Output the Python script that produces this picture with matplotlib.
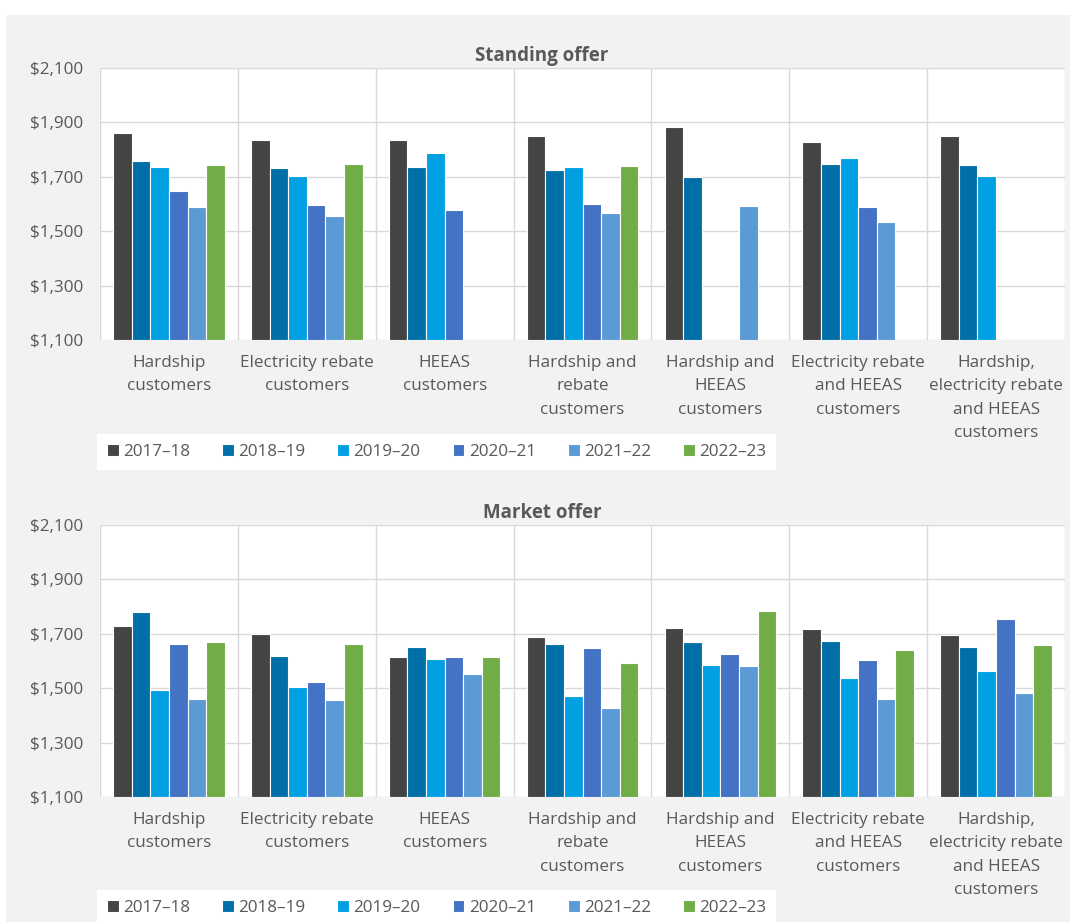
import numpy as np
import matplotlib.pyplot as plt
from matplotlib.patches import Rectangle

plt.rcParams['font.family'] = ['Open Sans', 'DejaVu Sans']

# Categories and years
categories = ['Hardship\ncustomers', 'Electricity rebate\ncustomers', 'HEEAS\ncustomers',
              'Hardship and\nrebate\ncustomers', 'Hardship and\nHEEAS\ncustomers',
              'Electricity rebate\nand HEEAS\ncustomers',
              'Hardship,\nelectricity rebate\nand HEEAS\ncustomers']
years = ['2017\u201318', '2018\u201319', '2019\u201320', '2020\u201321', '2021\u201322', '2022\u201323']
colors = ['#444444', '#006FA8', '#00A0E2', '#4472C4', '#5B9BD5', '#70AD47']

nan = np.nan
# Standing offer, one list per year (values per category)
standing_2017 = [1862, 1835, 1835, 1851, 1884, 1829, 1851]
standing_2018 = [1758, 1732, 1737, 1725, 1699, 1747, 1742]
standing_2019 = [1737, 1704, 1786, 1736, nan, 1769, 1703]
standing_2020 = [1649, 1595, 1578, 1599, nan, 1589, nan]
standing_2021 = [1589, 1557, nan, 1566, 1594, 1534, nan]
standing_2022 = [1742, 1747, nan, 1741, nan, nan, nan]

# Market offer
market_2017 = [1729, 1698, 1615, 1687, 1723, 1718, 1696]
market_2018 = [1779, 1620, 1653, 1663, 1669, 1674, 1653]
market_2019 = [1494, 1505, 1609, 1473, 1587, 1537, 1565]
market_2020 = [1663, 1521, 1615, 1648, 1625, 1603, 1756]
market_2021 = [1461, 1455, 1554, 1429, 1582, 1461, 1483]
market_2022 = [1669, 1663, 1614, 1592, 1785, 1641, 1658]

standing = [standing_2017, standing_2018, standing_2019, standing_2020, standing_2021, standing_2022]
market = [market_2017, market_2018, market_2019, market_2020, market_2021, market_2022]

W, H = 1070, 922
fig = plt.figure(figsize=(W / 100, H / 100), dpi=100, facecolor='white')
fig.patches.append(Rectangle((6 / W, 0), 1, 1 - 15 / H, transform=fig.transFigure,
                             facecolor='#F2F2F2', edgecolor='none', zorder=-10))

text_col = '#595959'
grid_col = '#D9D9D9'


def draw(ax, data, title, title_y):
    x = np.arange(len(categories))
    bw = 0.135
    for i, (vals, c) in enumerate(zip(data, colors)):
        v = np.array(vals, dtype=float)
        ax.bar(x + (i - 2.5) * bw, v - 1100, bottom=1100, width=bw, color=c,
               edgecolor='white', linewidth=0.8, label=years[i], zorder=3)
    ax.set_xlim(-0.5, len(categories) - 0.5)
    ax.set_ylim(1100, 2100)
    ax.set_yticks(np.arange(1100, 2101, 200))
    ax.set_yticklabels(['${:,}'.format(v) for v in range(1100, 2101, 200)])
    ax.grid(axis='y', color=grid_col, linewidth=1, zorder=0)
    for b in np.arange(-0.5, len(categories), 1):
        ax.axvline(b, color=grid_col, linewidth=1, zorder=1)
    for s in ax.spines.values():
        s.set_visible(False)
    ax.set_xticks(x)
    ax.set_xticklabels(categories, linespacing=1.6)
    ax.tick_params(axis='both', length=0, labelsize=12.3, colors=text_col)
    ax.tick_params(axis='y', pad=12)
    ax.tick_params(axis='x', pad=11)
    ax.set_facecolor('white')
    fig.text(542 / W, 1 - title_y / H, title, fontsize=13.5, fontweight='bold',
             color=text_col, ha='center', va='center')


ax1 = fig.add_axes([100 / W, 1 - 340 / H, 965 / W, 272 / H])
draw(ax1, standing, 'Standing offer', 56)
ax2 = fig.add_axes([100 / W, 1 - 797 / H, 965 / W, 272 / H])
draw(ax2, market, 'Market offer', 513)

for ax, yc in [(ax1, 452), (ax2, 908)]:
    h, l = ax.get_legend_handles_labels()
    leg = fig.legend(h, l, ncol=6, loc='center', mode='expand',
                     bbox_to_anchor=(88 / W, 1 - (yc + 19) / H, 697 / W, 38 / H),
                     frameon=True, fancybox=False, facecolor='white', edgecolor='white',
                     framealpha=1, fontsize=12.3, handlelength=0.7, handleheight=0.7,
                     handletextpad=0.25, borderpad=0.6, labelcolor=text_col)
    leg.get_frame().set_linewidth(0)

fig.savefig('out.png', dpi=100, facecolor=fig.get_facecolor())
